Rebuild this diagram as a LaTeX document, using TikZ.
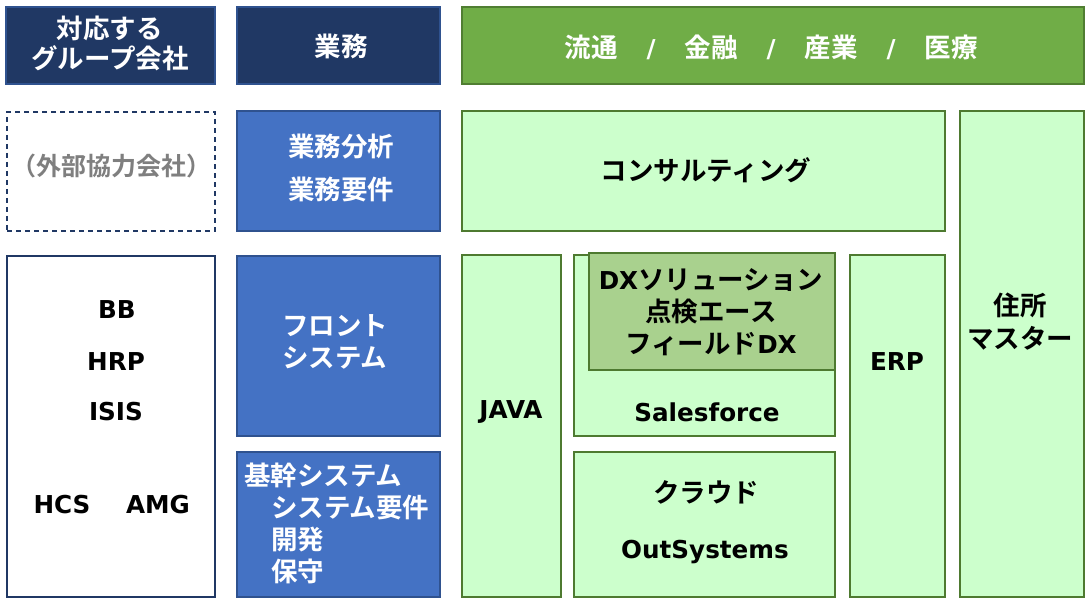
\documentclass[tikz,border=0pt]{standalone}
\usepackage{fontspec}
\setmainfont{Noto Sans CJK JP}[UprightFont=* Bold]
\newfontfamily\lat{DejaVu Sans}[UprightFont=* Bold, Scale=0.93]
\definecolor{navy}{HTML}{203864}
\definecolor{blueF}{HTML}{4472C4}
\definecolor{blueD}{HTML}{2F528F}
\definecolor{hdrG}{HTML}{70AD47}
\definecolor{hdrGD}{HTML}{507E32}
\definecolor{lightG}{HTML}{CCFFCC}
\definecolor{lightGD}{HTML}{4E7A30}
\definecolor{dxG}{HTML}{A9D18E}
\definecolor{grayT}{HTML}{7F7F7F}
\tikzset{
  bx/.style={rectangle, inner sep=0pt, outer sep=0pt, anchor=north west, line width=1.2pt},
  navybox/.style={bx, fill=navy, draw=blueD},
  bluebox/.style={bx, fill=blueF, draw=blueD},
  hdrbox/.style={bx, fill=hdrG, draw=hdrGD},
  lightbox/.style={bx, fill=lightG, draw=lightGD},
  dxbox/.style={bx, fill=dxG, draw=lightGD},
  dashbox/.style={bx, draw=navy, dash pattern=on 5pt off 4pt},
  whitebox/.style={bx, fill=white, draw=navy},
  txt/.style={inner sep=0pt, outer sep=0pt, font=\fontsize{26.5}{32}\selectfont, align=center},
  wtxt/.style={txt, text=white},
  btxt/.style={txt, text=black},
  ltxt/.style={btxt, font=\lat\fontsize{26.5}{32}\selectfont},
}
\begin{document}
\begin{tikzpicture}[x=1pt, y=-1pt]
\useasboundingbox[fill=white] (0,0) rectangle (1090,604);
% boxes
\node[navybox, minimum width=209pt, minimum height=77pt] (hdrA) at (6,7) {};
\node[navybox, minimum width=203pt, minimum height=77pt] (hdrB) at (237,7) {};
\node[hdrbox, minimum width=622pt, minimum height=77pt] (hdrC) at (462,7) {};
\node[dashbox, minimum width=208pt, minimum height=119pt] (ext) at (7,112) {};
\node[bluebox, minimum width=203pt, minimum height=120pt] (biz) at (237,111) {};
\node[lightbox, minimum width=483pt, minimum height=120pt] (cons) at (462,111) {};
\node[lightbox, minimum width=124pt, minimum height=486pt] (addr) at (960,111) {};
\node[whitebox, minimum width=208pt, minimum height=341pt] (grp) at (7,256) {};
\node[bluebox, minimum width=203pt, minimum height=180pt] (front) at (237,256) {};
\node[bluebox, minimum width=203pt, minimum height=145pt] (core) at (237,452) {};
\node[lightbox, minimum width=99pt, minimum height=342pt] (java) at (462,255) {};
\node[lightbox, minimum width=261pt, minimum height=181pt] (sf) at (574,255) {};
\node[dxbox, minimum width=246pt, minimum height=117pt] (dx) at (589,253) {};
\node[lightbox, minimum width=261pt, minimum height=145pt] (cloud) at (574,452) {};
\node[lightbox, minimum width=95pt, minimum height=342pt] (erp) at (850,255) {};
% header texts
\node[wtxt, font=\fontsize{26.5}{30}\selectfont] (tA) at (110,43) {対応する\\グループ会社};
\node[wtxt] (tB) at (341,46) {業務};
\node[wtxt] (tC) at (771,47) {流通\hspace{29pt}{\lat /}\hspace{29pt}金融\hspace{29pt}{\lat /}\hspace{29pt}産業\hspace{29pt}{\lat /}\hspace{29pt}医療};
% row 2
\node[txt, text=grayT, font=\fontsize{25}{30}\selectfont] (tExt) at (112,166) {（外部協力会社）};
\node[wtxt, font=\fontsize{26.5}{43}\selectfont] (tBiz) at (341,168) {業務分析\\業務要件};
\node[btxt] (tCons) at (706,170) {コンサルティング};
\node[btxt, font=\fontsize{26.5}{33}\selectfont] (tAddr) at (1020,322) {住所\\マスター};
% left group
\node[ltxt] (tBB) at (117,310) {BB};
\node[ltxt] (tHRP) at (116,362) {HRP};
\node[ltxt] (tISIS) at (116,412) {ISIS};
\node[ltxt] (tHCS) at (62,505) {HCS};
\node[ltxt] (tAMG) at (158,505) {AMG};
% blue column
\node[wtxt, align=left] (tFront) at (335,342) {フロント\\システム};
\node[wtxt, align=left, anchor=west] (tCore) at (244,523) {基幹システム\\\hspace{27pt}システム要件\\\hspace{27pt}開発\\\hspace{27pt}保守};
% light columns
\node[ltxt] (tJava) at (511,412) {JAVA};
\node[btxt] (tDx) at (711,312) {{\lat DX}ソリューション\\点検エース\\フィールド{\lat DX}};
\node[ltxt] (tSf) at (707,412) {Salesforce};
\node[ltxt] (tErp) at (897,362) {ERP};
\node[btxt] (tCloud) at (706,492) {クラウド};
\node[ltxt] (tOut) at (705,552) {OutSystems};
\end{tikzpicture}
\end{document}
